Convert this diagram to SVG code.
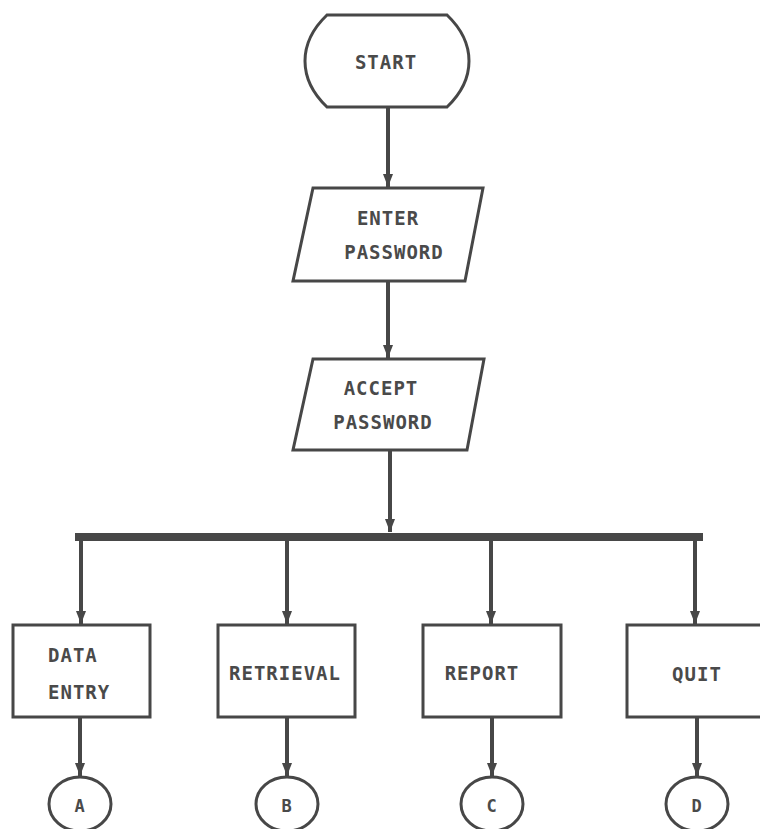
<svg xmlns="http://www.w3.org/2000/svg" width="760" height="829" viewBox="0 0 760 829">
<style>
.shape{fill:#fff;stroke:#474747;stroke-width:3}
.conn{stroke:#474747;stroke-width:4;fill:none}
.bus{stroke:#474747;stroke-width:8;fill:none}
text{font-family:"DejaVu Sans Mono","Liberation Mono",monospace;font-weight:bold;font-size:19px;fill:#4a4a4a;text-anchor:middle;letter-spacing:1px}
.small{font-size:17px}
</style>
<defs>
<marker id="ah" markerUnits="userSpaceOnUse" markerWidth="16" markerHeight="12" refX="14" refY="6" orient="auto" viewBox="0 0 16 12">
<path d="M1,1 L14,6 L1,11 Z" fill="#474747"/>
</marker>
</defs>
<rect width="760" height="829" fill="#fff"/>
<g id="connectors">
<line class="conn" x1="388" y1="107" x2="388" y2="187" marker-end="url(#ah)"/>
<line class="conn" x1="388" y1="281" x2="388" y2="358" marker-end="url(#ah)"/>
<line class="conn" x1="390" y1="450" x2="390" y2="532" marker-end="url(#ah)"/>
<line class="bus" x1="75" y1="537" x2="703" y2="537"/>
<line class="conn" x1="81" y1="540" x2="81" y2="624" marker-end="url(#ah)"/>
<line class="conn" x1="287" y1="540" x2="287" y2="624" marker-end="url(#ah)"/>
<line class="conn" x1="491" y1="540" x2="491" y2="624" marker-end="url(#ah)"/>
<line class="conn" x1="695" y1="540" x2="695" y2="624" marker-end="url(#ah)"/>
<line class="conn" x1="80" y1="718" x2="80" y2="776" marker-end="url(#ah)"/>
<line class="conn" x1="287" y1="718" x2="287" y2="776" marker-end="url(#ah)"/>
<line class="conn" x1="492" y1="718" x2="492" y2="776" marker-end="url(#ah)"/>
<line class="conn" x1="697" y1="718" x2="697" y2="776" marker-end="url(#ah)"/>
</g>
<g id="start">
<path class="shape" d="M327,15 H447 Q469,36 469,61 Q469,86 447,107 H327 Q305,86 305,61 Q305,36 327,15 Z"/>
<text x="386" y="69">START</text>
</g>
<g id="enter-password">
<polygon class="shape" points="313,188 483,188 465,281 293,281"/>
<text x="388" y="225">ENTER</text>
<text x="394" y="259">PASSWORD</text>
</g>
<g id="accept-password">
<polygon class="shape" points="313,359 484,359 467,450 293,450"/>
<text x="381" y="395">ACCEPT</text>
<text x="383" y="429">PASSWORD</text>
</g>
<g id="data-entry">
<rect class="shape" x="13" y="625" width="137" height="92"/>
<text x="48" y="662" style="text-anchor:start">DATA</text>
<text x="48" y="699" style="text-anchor:start">ENTRY</text>
</g>
<g id="retrieval">
<rect class="shape" x="218" y="625" width="137" height="92"/>
<text x="285" y="680">RETRIEVAL</text>
</g>
<g id="report">
<rect class="shape" x="423" y="625" width="138" height="92"/>
<text x="482" y="680">REPORT</text>
</g>
<g id="quit">
<rect class="shape" x="627" y="625" width="136" height="92"/>
<text x="697" y="681">QUIT</text>
</g>
<g id="conn-a">
<ellipse class="shape" cx="80" cy="804" rx="31" ry="27"/>
<text class="small" x="80" y="812">A</text>
</g>
<g id="conn-b">
<ellipse class="shape" cx="287" cy="804" rx="31" ry="27"/>
<text class="small" x="287" y="812">B</text>
</g>
<g id="conn-c">
<ellipse class="shape" cx="492" cy="804" rx="31" ry="27"/>
<text class="small" x="492" y="812">C</text>
</g>
<g id="conn-d">
<ellipse class="shape" cx="697" cy="804" rx="31" ry="27"/>
<text class="small" x="697" y="812">D</text>
</g>
</svg>
